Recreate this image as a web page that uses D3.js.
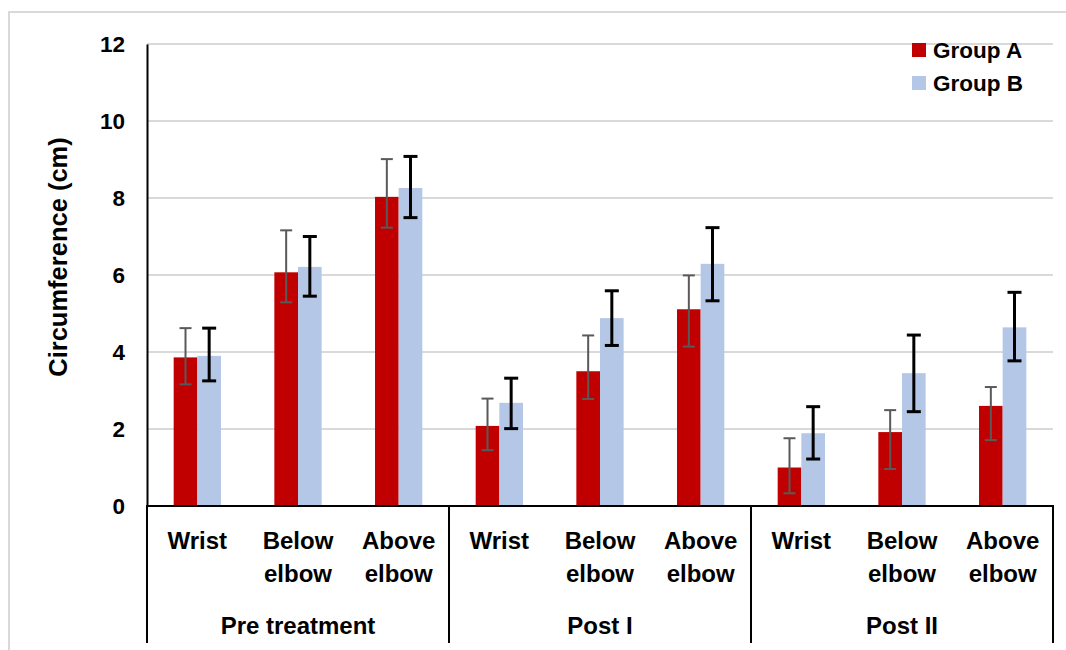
<!DOCTYPE html>
<html>
<head>
<meta charset="utf-8">
<script src="https://cdn.jsdelivr.net/npm/d3@7"></script>
<style>
  html, body { margin: 0; padding: 0; background: #fff; }
  svg { display: block; }
  text { font-family: "Liberation Sans", Arial, sans-serif; font-weight: bold; fill: #000; }
</style>
</head>
<body>
<svg id="chart" width="1066" height="650"></svg>
<script>
// ---- data ----
const phases = ["Pre treatment", "Post I", "Post II"];
const sites = [["Wrist"], ["Below", "elbow"], ["Above", "elbow"]];
const seriesNames = ["Group A", "Group B"];
// values in phase order, each phase: Wrist, Below elbow, Above elbow
const groupA = [3.86, 6.07, 8.03, 2.08, 3.50, 5.11, 1.00, 1.92, 2.60];
const groupB = [3.90, 6.21, 8.26, 2.68, 4.88, 6.29, 1.89, 3.45, 4.64];
// error-bar ends
const groupAHigh = [4.62, 7.16, 9.01, 2.79, 4.43, 5.99, 1.76, 2.49, 3.09];
const groupALow  = [3.16, 5.29, 7.23, 1.45, 2.78, 4.14, 0.33, 0.96, 1.71];
const groupBHigh = [4.62, 7.00, 9.08, 3.32, 5.59, 7.23, 2.58, 4.44, 5.55];
const groupBLow  = [3.25, 5.45, 7.49, 2.01, 4.17, 5.33, 1.22, 2.45, 3.77];
const yTicks = [0, 2, 4, 6, 8, 10, 12];
const yTitle = "Circumference (cm)";

// ---- layout ----
const svg = d3.select("#chart");
const mLeft = 147, mRight = 1053, mTop = 44, mBottom = 506, catBottom = 643;
const colors = ["#C00000", "#B4C7E7"];

// frame
svg.append("path")
  .attr("d", `M9,660 L9,12 L1070,12`)
  .attr("fill", "none").attr("stroke", "#d9d9d9").attr("stroke-width", 2);

const y = d3.scaleLinear().domain([0, 12]).range([mBottom, mTop]);
const keys = d3.range(groupA.length);
const x = d3.scaleBand().domain(keys).range([mLeft, mRight]).paddingInner(0.53).paddingOuter(0.265);
const xs = d3.scaleBand().domain([0, 1]).range([0, x.bandwidth()]);

// gridlines
svg.append("g").selectAll("line").data(yTicks.filter(d => d > 0)).join("line")
  .attr("x1", mLeft).attr("x2", mRight)
  .attr("y1", d => y(d)).attr("y2", d => y(d))
  .attr("stroke", "#d9d9d9").attr("stroke-width", 2);

// y axis
const yAxis = d3.axisLeft(y).tickValues(yTicks).tickSize(0).tickPadding(22);
const ya = svg.append("g").attr("transform", `translate(${mLeft},0)`).call(yAxis);
ya.select(".domain").attr("stroke", "#000").attr("stroke-width", 2);
ya.selectAll("text").attr("font-size", 22.5).attr("font-family", "Liberation Sans, Arial, sans-serif")
  .attr("font-weight", "bold").attr("fill", "#000");

svg.append("text")
  .attr("transform", `translate(67,${(mTop + mBottom) / 2 - 18}) rotate(-90)`)
  .attr("text-anchor", "middle").attr("font-size", 25.5).text(yTitle);

// bars
const series = [
  { vals: groupA, hi: groupAHigh, lo: groupALow, color: colors[0], err: "#595959", ew: 2, cap: 12 },
  { vals: groupB, hi: groupBHigh, lo: groupBLow, color: colors[1], err: "#000000", ew: 3, cap: 14 }
];
series.forEach((s, si) => {
  const g = svg.append("g");
  g.selectAll("rect").data(keys).join("rect")
    .attr("x", i => x(i) + xs(si))
    .attr("width", xs.bandwidth())
    .attr("y", i => y(s.vals[i]))
    .attr("height", i => y(0) - y(s.vals[i]))
    .attr("fill", s.color);
});
series.forEach((s, si) => {
  const g = svg.append("g");
  keys.forEach(i => {
    const cx = x(i) + xs(si) + xs.bandwidth() / 2;
    g.append("line").attr("x1", cx).attr("x2", cx)
      .attr("y1", y(s.hi[i])).attr("y2", y(s.lo[i]))
      .attr("stroke", s.err).attr("stroke-width", s.ew);
    [s.hi[i], s.lo[i]].forEach(v => {
      g.append("line").attr("x1", cx - s.cap / 2).attr("x2", cx + s.cap / 2)
        .attr("y1", y(v)).attr("y2", y(v))
        .attr("stroke", s.err).attr("stroke-width", s.ew);
    });
  });
});

// x axis and category dividers
svg.append("line").attr("x1", mLeft).attr("x2", mRight).attr("y1", y(0)).attr("y2", y(0))
  .attr("stroke", "#000").attr("stroke-width", 2);
const phaseScale = d3.scaleBand().domain(phases).range([mLeft, mRight]);
const dividers = phases.map(p => phaseScale(p)).concat([mRight]);
svg.append("g").selectAll("line").data(dividers).join("line")
  .attr("x1", d => d).attr("x2", d => d).attr("y1", y(0) - 1).attr("y2", catBottom)
  .attr("stroke", "#000").attr("stroke-width", 2);

// site labels
const slot = (mRight - mLeft) / keys.length;
keys.forEach(i => {
  const cx = mLeft + slot * (i + 0.5);
  const lines = sites[i % 3];
  const t = svg.append("text").attr("text-anchor", "middle").attr("font-size", 24);
  lines.forEach((ln, li) => {
    t.append("tspan").attr("x", cx).attr("y", 549 + li * 33).text(ln);
  });
});
// phase labels
phases.forEach(p => {
  svg.append("text").attr("x", phaseScale(p) + phaseScale.bandwidth() / 2).attr("y", 634)
    .attr("text-anchor", "middle").attr("font-size", 24).text(p);
});

// legend
seriesNames.forEach((n, i) => {
  const ly = 50 + i * 33;
  svg.append("rect").attr("x", 912).attr("y", ly - 7).attr("width", 14).attr("height", 14).attr("fill", colors[i]);
  svg.append("text").attr("x", 933).attr("y", ly + 8).attr("font-size", 22.5).text(n);
});
</script>
</body>
</html>
